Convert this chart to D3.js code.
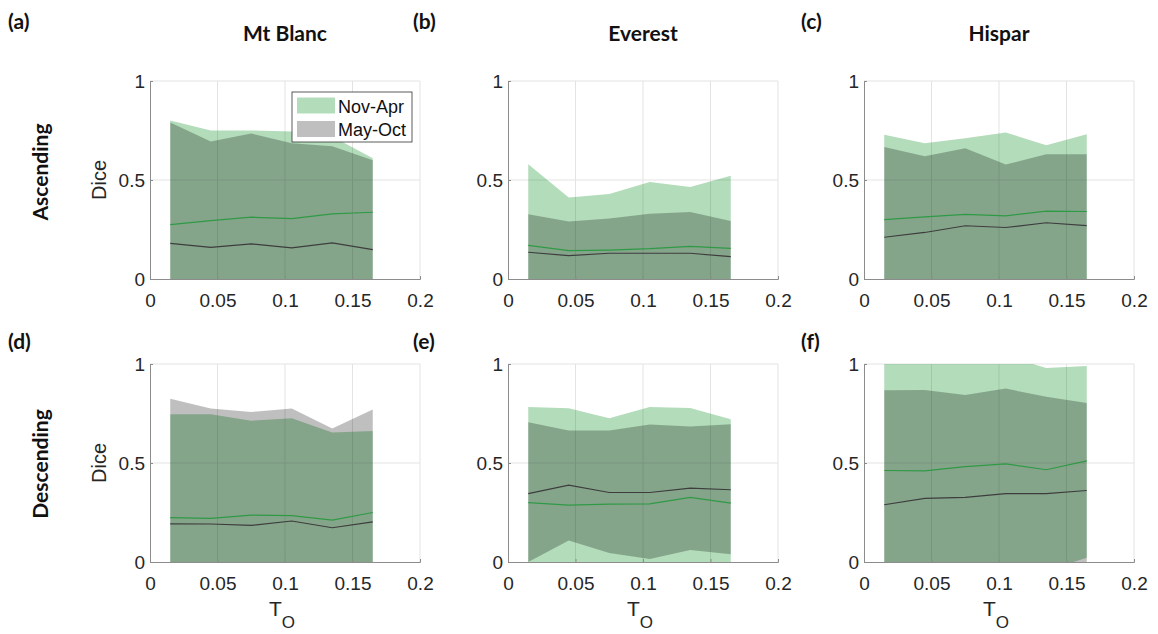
<!DOCTYPE html>
<html>
<head>
<meta charset="utf-8">
<script src="https://cdn.jsdelivr.net/npm/d3@7"></script>
<style>
  body { margin: 0; background: #fff; }
  svg { display: block; }
</style>
</head>
<body>
<svg id="chart" width="1158" height="634"></svg>
<script>
// threshold values on the x axis
var tO = [0.015, 0.045, 0.075, 0.105, 0.135, 0.165];

var sites = ["Mt Blanc", "Everest", "Hispar"];
var orbits = ["Ascending", "Descending"];
var panelLetters = ["(a)", "(b)", "(c)", "(d)", "(e)", "(f)"];
var xTicks = [0, 0.05, 0.1, 0.15, 0.2];
var yTicks = [0, 0.5, 1];
var seasons = ["Nov-Apr", "May-Oct"];

// one row per panel, a..f
var novAprUpper = [
  [0.80, 0.75, 0.75, 0.745, 0.72, 0.61],
  [0.579, 0.411, 0.429, 0.49, 0.465, 0.522],
  [0.728, 0.686, 0.711, 0.74, 0.676, 0.731],
  [0.746, 0.746, 0.714, 0.726, 0.654, 0.662],
  [0.783, 0.776, 0.726, 0.783, 0.778, 0.721],
  [1.02, 1.02, 1.02, 1.04, 0.98, 0.99]
];
var novAprLower = [
  [0, 0, 0, 0, 0, 0],
  [0, 0, 0, 0, 0, 0],
  [0, 0, 0, 0, 0, 0],
  [0, 0, 0, 0, 0, 0],
  [0, 0, 0, 0, 0, 0],
  [0, 0, 0, 0, -0.045, 0.022]
];
var novAprMean = [
  [0.275, 0.295, 0.312, 0.305, 0.329, 0.337],
  [0.17, 0.143, 0.146, 0.153, 0.165, 0.155],
  [0.30, 0.314, 0.326, 0.319, 0.343, 0.341],
  [0.224, 0.22, 0.237, 0.234, 0.212, 0.25],
  [0.30, 0.287, 0.292, 0.294, 0.326, 0.297],
  [0.462, 0.46, 0.482, 0.496, 0.466, 0.511]
];
var mayOctUpper = [
  [0.79, 0.695, 0.735, 0.685, 0.67, 0.60],
  [0.327, 0.29, 0.305, 0.33, 0.338, 0.293],
  [0.667, 0.62, 0.66, 0.578, 0.63, 0.63],
  [0.824, 0.775, 0.758, 0.775, 0.674, 0.77],
  [0.706, 0.664, 0.664, 0.694, 0.684, 0.696],
  [0.867, 0.869, 0.844, 0.876, 0.834, 0.803]
];
var mayOctLower = [
  [0, 0, 0, 0, 0, 0],
  [0, 0, 0, 0, 0, 0],
  [0, 0, 0, 0, 0, 0],
  [0, 0, 0, 0, 0, 0],
  [0, 0.109, 0.045, 0.015, 0.06, 0.039],
  [0, 0, 0, 0, 0, 0]
];
var mayOctMean = [
  [0.18, 0.16, 0.177, 0.157, 0.182, 0.148],
  [0.135, 0.118, 0.13, 0.13, 0.13, 0.113],
  [0.211, 0.235, 0.269, 0.26, 0.284, 0.27],
  [0.193, 0.192, 0.185, 0.207, 0.173, 0.203],
  [0.345, 0.388, 0.351, 0.351, 0.373, 0.365],
  [0.289, 0.321, 0.326, 0.345, 0.345, 0.361]
];

var svg = d3.select("#chart");

var colLeft = [150, 508, 864];
var rowTop = [81, 364];
var panelW = 270;
var panelH = 198;
var letterX = [8, 413, 801];
var letterY = [29, 349];
var rowLabelY = [172, 464];

var greenFill = "rgb(0,140,25)";
var greenLine = "#2f9a45";
var grayLine = "#3d3d3d";
var axisColor = "#8c8c8c";
var tickFont = "'Liberation Sans', Arial, sans-serif";
var boldFont = "Lato, 'Open Sans', sans-serif";

var defs = svg.append("defs");

// column titles
sites.forEach(function(s, c) {
  svg.append("text")
    .attr("x", colLeft[c] + panelW / 2)
    .attr("y", 41)
    .attr("text-anchor", "middle")
    .style("font-family", boldFont)
    .style("font-weight", "bold")
    .style("font-size", "21px")
    .attr("fill", "#111")
    .text(s);
});

// row titles
orbits.forEach(function(o, r) {
  svg.append("text")
    .attr("transform", `translate(48, ${rowLabelY[r]}) rotate(-90)`)
    .attr("text-anchor", "middle")
    .style("font-family", boldFont)
    .style("font-weight", "bold")
    .style("font-size", "21px")
    .attr("fill", "#111")
    .text(o);
});

for (var r = 0; r < 2; r++) {
  for (var c = 0; c < 3; c++) {
    var i = r * 3 + c;
    var g = svg.append("g")
      .attr("transform", `translate(${colLeft[c]}, ${rowTop[r]})`);

    var x = d3.scaleLinear().domain([0, 0.2]).range([0, panelW]);
    var y = d3.scaleLinear().domain([0, 1]).range([panelH, 0]);

    // panel letter
    svg.append("text")
      .attr("x", letterX[c])
      .attr("y", letterY[r])
      .style("font-family", boldFont)
      .style("font-weight", "bold")
      .style("font-size", "21px")
      .attr("fill", "#111")
      .text(panelLetters[i]);

    // grid
    g.append("g").selectAll("line")
      .data(xTicks.slice(1))
      .join("line")
      .attr("x1", d => x(d)).attr("x2", d => x(d))
      .attr("y1", 0).attr("y2", panelH)
      .attr("stroke", "#e3e3e3");
    g.append("g").selectAll("line")
      .data(yTicks.slice(1))
      .join("line")
      .attr("x1", 0).attr("x2", panelW)
      .attr("y1", d => y(d)).attr("y2", d => y(d))
      .attr("stroke", "#e3e3e3");

    defs.append("clipPath").attr("id", "clip" + i)
      .append("rect").attr("width", panelW).attr("height", panelH);

    var plot = g.append("g").attr("clip-path", `url(#clip${i})`);

    var area = function(lo, hi) {
      return d3.area()
        .x((d, k) => x(tO[k]))
        .y0((d, k) => y(lo[k]))
        .y1((d, k) => y(hi[k]))(tO);
    };
    var line = function(vals) {
      return d3.line()
        .x((d, k) => x(tO[k]))
        .y((d, k) => y(vals[k]))(tO);
    };

    plot.append("path")
      .attr("d", area(novAprLower[i], novAprUpper[i]))
      .attr("fill", greenFill)
      .attr("fill-opacity", 0.3);
    plot.append("path")
      .attr("d", area(mayOctLower[i], mayOctUpper[i]))
      .attr("fill", "#000")
      .attr("fill-opacity", 0.25);
    plot.append("path")
      .attr("d", line(novAprMean[i]))
      .attr("fill", "none")
      .attr("stroke", greenLine)
      .attr("stroke-width", 1.2);
    plot.append("path")
      .attr("d", line(mayOctMean[i]))
      .attr("fill", "none")
      .attr("stroke", grayLine)
      .attr("stroke-width", 1.2);

    // axes
    var xAxis = d3.axisBottom(x).tickValues(xTicks).tickSize(-3).tickPadding(15)
      .tickFormat(d => d3.format("")(d));
    var yAxis = d3.axisLeft(y).tickValues(yTicks).tickSize(-3).tickPadding(5)
      .tickFormat(d => d3.format("")(d));

    var gx = g.append("g")
      .attr("transform", `translate(0, ${panelH})`)
      .call(xAxis);
    var gy = g.append("g").call(yAxis);
    [gx, gy].forEach(function(a) {
      a.select(".domain").attr("stroke", axisColor);
      a.selectAll(".tick line").attr("stroke", axisColor);
      a.selectAll("text")
        .style("font-family", tickFont)
        .style("font-size", "19px")
        .attr("fill", "#262626");
    });

    if (c == 0) {
      g.append("text")
        .attr("transform", `translate(-44, ${panelH / 2}) rotate(-90)`)
        .attr("text-anchor", "middle")
        .style("font-family", tickFont)
        .style("font-size", "20px")
        .attr("fill", "#262626")
        .text("Dice");
    }

    if (r == 1) {
      var xl = g.append("text")
        .attr("x", panelW / 2 - 3)
        .attr("y", panelH + 54)
        .attr("text-anchor", "middle")
        .style("font-family", tickFont)
        .style("font-size", "21px")
        .attr("fill", "#262626");
      xl.append("tspan").text("T");
      xl.append("tspan").attr("dy", 12).style("font-size", "17px").text("O");
    }

    // legend only on the first panel
    if (i == 0) {
      var lg = g.append("g").attr("transform", "translate(142, 11)");
      lg.append("rect")
        .attr("width", 120).attr("height", 50)
        .attr("fill", "#fff")
        .attr("stroke", "#333")
        .attr("stroke-width", 0.8);
      var swatch = [
        { fill: greenFill, op: 0.3 },
        { fill: "#000", op: 0.25 }
      ];
      seasons.forEach(function(s, k) {
        lg.append("rect")
          .attr("x", 5).attr("y", 5.5 + k * 23.5)
          .attr("width", 38).attr("height", 16)
          .attr("fill", swatch[k].fill)
          .attr("fill-opacity", swatch[k].op);
        lg.append("text")
          .attr("x", 46).attr("y", 21 + k * 22.5)
          .style("font-family", tickFont)
          .style("font-size", "18px")
          .attr("fill", "#111")
          .text(s);
      });
    }
  }
}
</script>
</body>
</html>
